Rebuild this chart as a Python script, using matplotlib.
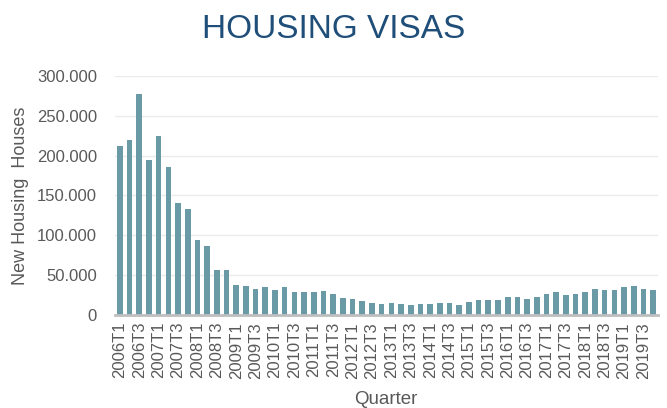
import matplotlib

matplotlib.use("Agg")

import matplotlib.pyplot as plt
from matplotlib.ticker import FuncFormatter

plt.rcParams["font.family"] = ["Liberation Sans", "DejaVu Sans"]

YEARS = list(range(2006, 2020))
QUARTERS = [f"{year}T{q}" for year in YEARS for q in (1, 2, 3, 4)]

# New housing visas per quarter
VISAS = [
    212000, 219700, 277000, 195000,
    224700, 185800, 140000, 132600,
    94000, 86600, 57000, 57000,
    38000, 37000, 32000, 35000,
    31000, 35500, 29000, 28600,
    29400, 29800, 26500, 21800,
    20000, 17200, 15000, 13900,
    15000, 14300, 13000, 13400,
    13900, 15000, 14700, 12600,
    16400, 19300, 18500, 19300,
    22300, 23100, 20600, 22300,
    26500, 28600, 25600, 26000,
    29400, 32800, 31100, 31900,
    34900, 36100, 32400, 31100,
]

TITLE = "HOUSING VISAS"
Y_LABEL = "New Housing  Houses"
X_LABEL = "Quarter"

BAR_COLOR = "#6a9aa5"
TITLE_COLOR = "#1f4e79"
TEXT_COLOR = "#595959"


def thousands_dot(value, _pos):
    return f"{int(value):,}".replace(",", ".")


fig = plt.figure(figsize=(6.67, 4.08), dpi=100)
ax = fig.add_axes([0.1724, 0.228, 0.8141, 0.5857])

positions = list(range(len(QUARTERS)))
ax.bar(positions, VISAS, width=0.58, color=BAR_COLOR, edgecolor="none", zorder=2)

ax.set_xlim(-0.5, len(QUARTERS) - 0.5)
ax.set_ylim(0, 300000)
ax.set_yticks(range(0, 300001, 50000))
ax.yaxis.set_major_formatter(FuncFormatter(thousands_dot))
ax.set_xticks(positions[::2])
ax.set_xticklabels(QUARTERS[::2], rotation=90)

ax.grid(axis="y", color="#ebebeb", linewidth=1.0, zorder=0)
ax.set_axisbelow(True)
for side in ("top", "right", "left"):
    ax.spines[side].set_visible(False)
ax.spines["bottom"].set_color("#bfbfbf")
ax.spines["bottom"].set_linewidth(2.0)
ax.spines["bottom"].set_zorder(3)

ax.tick_params(axis="both", length=0, colors=TEXT_COLOR, labelsize=12)
ax.tick_params(axis="x", pad=5)
ax.tick_params(axis="y", pad=13)

fig.text(0.5, 1 - 38 / 408, TITLE, ha="center", va="baseline",
         fontsize=24, color=TITLE_COLOR)
fig.text(21 / 667, 1 - 196 / 408, Y_LABEL, ha="center", va="center",
         rotation=90, fontsize=13, color=TEXT_COLOR)
fig.text(386 / 667, 1 - 399 / 408, X_LABEL, ha="center", va="center",
         fontsize=13.5, color=TEXT_COLOR)

fig.savefig("out.png", dpi=100)
